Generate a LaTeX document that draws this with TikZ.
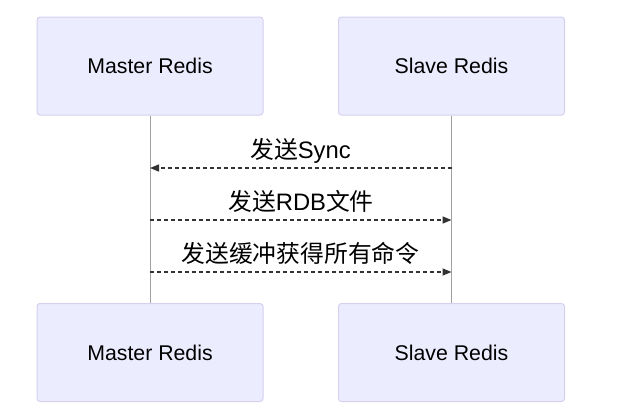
\documentclass[tikz,border=0pt]{standalone}
\usepackage{fontspec}
\setmainfont{Liberation Sans}
\newfontfamily\cjk{Noto Sans CJK SC}
\usetikzlibrary{arrows.meta}

\definecolor{actorfill}{HTML}{ECECFF}
\definecolor{actorline}{HTML}{D6D0EE}
\definecolor{lifeline}{HTML}{A0A0A0}
\definecolor{msgline}{HTML}{333333}

\begin{document}
\begin{tikzpicture}[x=1pt, y=-1pt,
  actor/.style={draw=actorline, fill=actorfill, rounded corners=3pt, line width=1pt,
    minimum width=226pt, minimum height=98pt, inner sep=0pt,
    font=\fontsize{21.3}{25}\selectfont},
  msg/.style={draw=msgline, line width=1.4pt, dash pattern=on 4pt off 3pt,
    -{Triangle[length=9pt, width=7pt]}},
  msglabel/.style={anchor=base, inner sep=0pt, font=\fontsize{23.8}{28}\selectfont}]
  % 背景
  \fill[white] (0,0) rectangle (624,413);
  % 参与者
  \node[actor] (master)  at (150,66)    {Master Redis};
  \node[actor] (slave)   at (451.5,66)  {Slave Redis};
  \node[actor] (masterb) at (150,352.5) {Master Redis};
  \node[actor] (slaveb)  at (451.5,352.5) {Slave Redis};
  % 生命线
  \draw[lifeline, line width=1pt] (master) -- (masterb);
  \draw[lifeline, line width=1pt] (slave) -- (slaveb);
  % 消息端点
  \coordinate (m1) at (master |- 0,168);
  \coordinate (s1) at (slave |- 0,168);
  \coordinate (m2) at (master |- 0,220);
  \coordinate (s2) at (slave |- 0,220);
  \coordinate (m3) at (master |- 0,272);
  \coordinate (s3) at (slave |- 0,272);
  % 消息
  \draw[msg] (s1) -- (m1);
  \node[msglabel] (sync) at (300.5,158) {{\cjk 发送}Sync};
  \draw[msg] (m2) -- (s2);
  \node[msglabel] (rdb) at (301,210) {{\cjk 发送}RDB{\cjk 文件}};
  \draw[msg] (m3) -- (s3);
  \node[msglabel] (buf) at (300.5,262) {\cjk 发送缓冲获得所有命令};
\end{tikzpicture}
\end{document}
